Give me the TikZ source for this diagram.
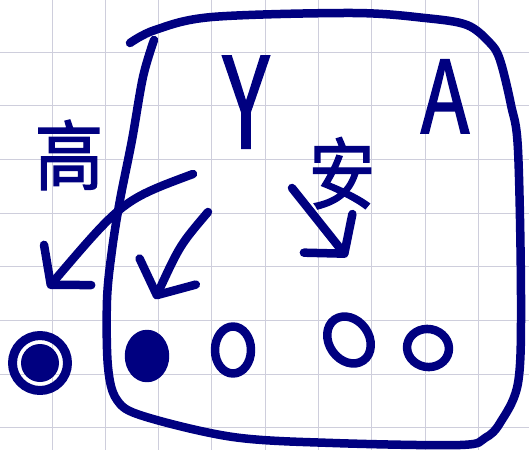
\documentclass[tikz,border=0pt]{standalone}
\usepackage{fontspec}
\newfontfamily\cjk[FakeBold=1.8]{Noto Sans CJK SC}
\usetikzlibrary{shapes.geometric, arrows.meta, positioning}
\definecolor{ink}{RGB}{0,0,128}
\definecolor{paper}{RGB}{206,206,220}
\tikzset{
  pen/.style={draw=ink, line width=8.5pt, line cap=round, line join=round},
  letter/.style={text=ink, inner sep=0pt, anchor=base, font=\cjk\fontsize{#1}{#1}\selectfont},
  ring/.style={pen, ellipse, inner sep=0pt},
}

\begin{document}
\begin{tikzpicture}[>={Straight Barb[length=26pt,width=62pt,round]}, x=1pt, y=-1pt]
\useasboundingbox (0,0) rectangle (529,450);
% paper
\fill[white] (0,0) rectangle (529,450);
\foreach \i in {0,...,8}
  \draw[paper, line width=1pt] (52+53.3*\i,0) -- (52+53.3*\i,450);
\foreach \j in {0,...,7}
  \draw[paper, line width=1pt] (0,52+53.7*\j) -- (529,52+53.7*\j);
%
\draw[pen] plot[smooth, tension=0.55] coordinates {(154,40) (143,77) (132,140)
  (120,200) (112,250) (107,300) (108,367) (117,400) (143,416) (233,437)
  (333,443) (460,445) (485,438) (500,423) (518,383) (521,300) (518,150)
  (511,105) (500,60) (490,43) (467,25) (425,18) (353,13) (212,17) (155,30) (130,43)};
%
\node[letter=125, xscale=0.7] (y) at (246,148) {Y};
\node[letter=100, xscale=0.8] (a) at (445,133) {A};
\node[letter=76, xscale=0.9] (gao) at (69,184) {高};
\node[letter=78, xscale=0.85] (an) at (342,203) {安};
%
\node[ring, circle, line width=9pt, minimum size=55pt] (target) at (40,363) {};
\fill[ink] (target.center) circle (19pt);
\node[ring, fill=ink, minimum width=36pt, minimum height=44pt] (blob) at (147,356) {};
\node[ring, minimum width=36pt, minimum height=47pt] (o1) at (233,350) {};
\node[ring, minimum width=40pt, minimum height=50pt, rotate=35] (o2) at (349,340) {};
\node[ring, minimum width=42pt, minimum height=38pt, rotate=-10] (o3) at (428,348) {};
%
\coordinate (gao s) at (193,174);
\coordinate (gao e) at (48,288);
\coordinate (y s) at (208,212);
\coordinate (y e) at (155,299);
\coordinate (an s) at (292,188);
\coordinate (an e) at (347,257);
\draw[pen, ->] (gao s) .. controls (123,200) .. (gao e);
\draw[pen, ->] (y s) .. controls (180,245) .. (y e);
\draw[pen, ->] (an s) -- (an e);
\end{tikzpicture}
\end{document}
